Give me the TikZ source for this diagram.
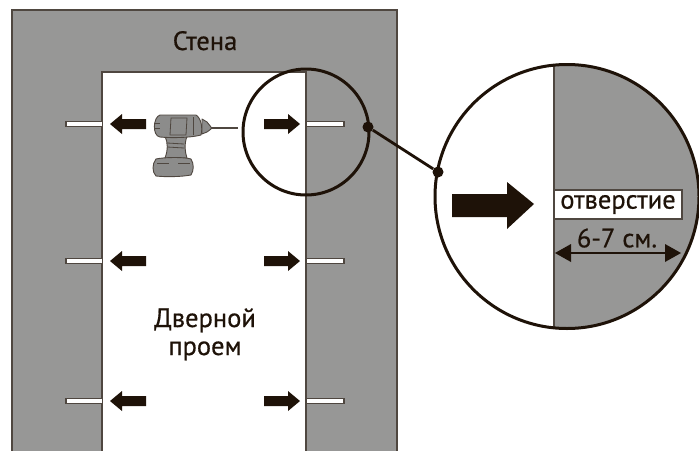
\documentclass[tikz,border=0pt]{standalone}
\usepackage{fontspec}
\usetikzlibrary{calc}
\setmainfont{PT Sans}[FakeStretch=1.0,BoldFont={PT Sans},BoldFeatures={FakeBold=0.6}]
\definecolor{wallc}{HTML}{979796}
\definecolor{inkc}{HTML}{1E1208}
\definecolor{linec}{HTML}{4F4740}
\definecolor{drillc}{HTML}{8C8C8B}
\tikzset{
  wallside/.style={fill=wallc,draw=linec,line width=1.5pt},
  slotbox/.style={fill=white,draw=linec,line width=1.3pt},
  lens/.style={draw=inkc,line width=3pt},
  arrowblock/.style={fill=inkc,draw=none},
  labeltext/.style={text=inkc,inner sep=0pt,align=center},
  drillpart/.style={fill=drillc,draw=linec,line width=0.9pt,line join=round},
  drilldetail/.style={draw=linec,line width=0.8pt},
  enddot/.style={circle,fill=inkc,inner sep=0pt,minimum size=11pt},
  bigfont/.style={font=\fontsize{26.5}{28}\selectfont\bfseries},
}
\begin{document}
\begin{tikzpicture}[x=1pt,y=-1pt]
\useasboundingbox (0,0) rectangle (699,450);
\fill[white] (0,0) rectangle (699,450);
% wall
\draw[wallside] (12,460) -- (12,10) -- (397,10) -- (397,460);
\draw[fill=white,draw=linec,line width=1.5pt] (102,460) -- (102,72) -- (306,72) -- (306,460);
% slots
\foreach \y in {124,261,401}{
  \draw[slotbox] (102,\y-2.5) -- (66,\y-2.5) -- (66,\y+2.5) -- (102,\y+2.5);
  \draw[slotbox] (307,\y-2.5) -- (344,\y-2.5) -- (344,\y+2.5) -- (307,\y+2.5);
  \fill[arrowblock] (110,\y) -- (122,\y-10) -- (122,\y-5) -- (146,\y-5) -- (146,\y+5) -- (122,\y+5) -- (122,\y+10) -- cycle;
  \fill[arrowblock] (300,\y) -- (288,\y-10) -- (288,\y-5) -- (264,\y-5) -- (264,\y+5) -- (288,\y+5) -- (288,\y+10) -- cycle;
}
% drill
\draw[drillpart] (165,136) -- (187,136) .. controls (184,145) and (185,152) .. (187,158) -- (165,158) .. controls (168,150) and (168,143) .. (165,136) -- cycle;
\draw[drillpart] (156,159) .. controls (165,157) and (185,157) .. (191,159) .. controls (194,164) and (194,170) .. (191,175) .. controls (180,177) and (165,177) .. (156,176) .. controls (152,172) and (152,164) .. (156,159) -- cycle;
\draw[drillpart] (160,115) -- (196,115) .. controls (201,118) and (203,128) .. (201,135) .. controls (190,138) and (170,138) .. (160,137) .. controls (152,136) and (153,117) .. (160,115) -- cycle;
\draw[drillpart] (202,119) -- (207,122) -- (211,127) -- (211,129) -- (207,132) -- (202,134) -- cycle;
\draw[drilldetail,line width=1.4pt] (211,128) -- (238,128);
\draw[drilldetail] (171,118) -- (187,118) -- (186,135) -- (170,135) -- cycle;
\draw[drilldetail] (154,123) -- (160,123) (154,128) -- (160,128);
\draw[drilldetail] (167,143) -- (184,144) (167,147) -- (184,148);
\draw[drilldetail] (157,163) -- (169,163) (178,163) -- (190,163);
\draw[drilldetail] (193,117) -- (193,135);
% small lens
\node[circle,lens,minimum size=126pt,inner sep=0pt] (small) at (306,132) {};
% big lens
\begin{scope}
  \clip (567,196.5) circle (132);
  \fill[wallc] (554,50) rectangle (710,340);
  \draw[linec,line width=1.5pt] (554,50) -- (554,340);
\end{scope}
\node[circle,lens,minimum size=264pt,inner sep=0pt] (big) at (567,196.5) {};
% connector
\node[enddot] (dota) at (368,127) {};
\node[enddot] (dotb) at (438,172) {};
\draw[inkc,line width=2.8pt] (dota) -- (dotb);
% big arrow
\fill[arrowblock] (534,204) -- (507,182) -- (507,194) -- (452,194) -- (452,217) -- (507,217) -- (507,229) -- cycle;
% label
\node[draw=linec,fill=white,line width=1.3pt,minimum width=128pt,minimum height=29pt,inner sep=0pt,text=inkc,font=\fontsize{26.5}{27}\selectfont\bfseries] (hole) at (618,204.5) {отверстие};
% dimension
\coordinate (dimL) at (555,253);
\coordinate (dimR) at (681,253);
\draw[inkc,line width=2.4pt] ($(dimL)+(12,0)$) -- ($(dimR)+(-12,0)$);
\fill[arrowblock] (dimL) -- ++(16,-9) -- ++(0,18) -- cycle;
\fill[arrowblock] (dimR) -- ++(-16,-9) -- ++(0,18) -- cycle;
\node[labeltext,bigfont] (dimtext) at (617,238) {6-7 см.};
% labels
\node[labeltext,bigfont,anchor=base] (wall) at (205,50) {Стена};
\node[labeltext,bigfont,anchor=base] (door1) at (205,327) {Дверной};
\node[labeltext,bigfont,anchor=base] (door2) at (205,355) {проем};
\end{tikzpicture}
\end{document}
